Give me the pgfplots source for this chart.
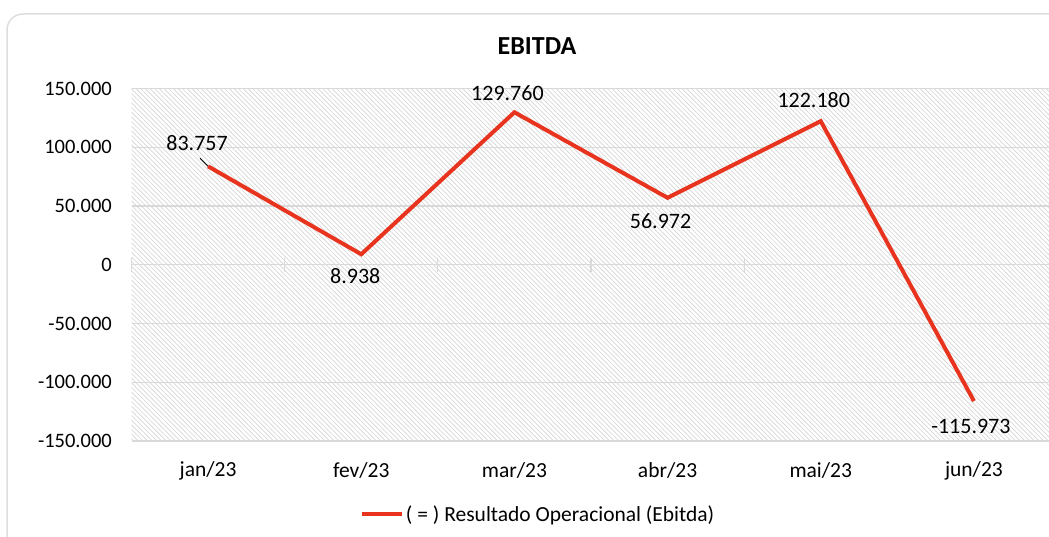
\documentclass[border=0pt]{standalone}
\usepackage{pgfplots}
\pgfplotsset{compat=1.18}
\usepackage{pgfplotstable}
\usetikzlibrary{patterns.meta}
\usepackage{fontspec}
\setmainfont{Carlito}
\definecolor{linered}{RGB}{232,52,30}
\definecolor{gridgray}{RGB}{217,217,217}
\definecolor{hatch}{RGB}{212,212,212}
\definecolor{framegray}{RGB}{222,222,222}

\pgfplotstableread{
x y lab dx dy
0 83757 83.757 -11 23.5
1 8938 8.938 -6 -21.5
2 129760 129.760 -7 19.3
3 56972 56.972 -7 -23
4 122180 122.180 -7 21
5 -115973 -115.973 -3 -25.5
}\data

\begin{document}
\begin{tikzpicture}
\useasboundingbox (0pt,0pt) rectangle (1049pt,536pt);
\fill[white] (0pt,0pt) rectangle (1049pt,536pt);
\draw[framegray, line width=1.5pt, rounded corners=16pt] (7pt,-30pt) -- (7pt,522pt) -- (1090pt,522pt);
\node[font=\fontsize{26}{30}\selectfont\bfseries] at (537pt,490pt) {EBITDA};
\begin{axis}[
  at={(131.5pt,95pt)}, anchor=south west,
  scale only axis, width=919pt, height=352.5pt,
  xmin=-0.5, xmax=5.5, ymin=-150000, ymax=150000,
  xtick={0,...,5},
  xticklabels={jan/23,fev/23,mar/23,abr/23,mai/23,jun/23},
  ytick={-150000,-100000,-50000,0,50000,100000,150000},
  yticklabels={-150.000,-100.000,-50.000,0,50.000,100.000,150.000},
  scaled y ticks=false,
  axis line style={draw=none},
  xtick pos=bottom, ytick pos=left,
  tick style={draw=none},
  ymajorgrids,
  grid style={gridgray, line width=1.2pt},
  axis background/.style={pattern={Lines[angle=-45,distance=3.3pt,line width=0.65pt]}, pattern color=hatch},
  yticklabel style={inner sep=0pt, anchor=east, xshift=-19.5pt, font=\fontsize{20.5}{24}\selectfont},
  xticklabel style={inner sep=0pt, anchor=center, yshift=-29.5pt, font=\fontsize{21.5}{24}\selectfont},
  clip=false,
  legend style={at={(0.4425,-0.207)}, anchor=center, draw=none, fill=none, inner sep=0pt,
    nodes={inner sep=1.5pt, font=\fontsize{21.5}{24}\selectfont}},
  legend image code/.code={\draw[#1] (0pt,0pt) -- (40pt,0pt);},
]
\pgfplotsinvokeforeach{-0.5,0.5,1.5,2.5,3.5,4.5}{
  \draw[gridgray, line width=1.2pt] ([yshift=-7pt]axis cs:#1,0) -- ([yshift=7pt]axis cs:#1,0);
}
\draw[black, line width=1pt] ([xshift=-8pt,yshift=8pt]axis cs:0,83757) -- (axis cs:0,83757);
\addplot[linered, line width=4pt, mark=none,
  nodes near coords, point meta=explicit symbolic,
  visualization depends on={\thisrow{dx}\as\dx},
  visualization depends on={\thisrow{dy}\as\dy},
  every node near coord/.append style={anchor=center, xshift=\dx, yshift=\dy, black, font=\fontsize{22}{26}\selectfont}
] table[x=x, y=y, meta=lab] {\data};
\addlegendentry{( = ) Resultado Operacional (Ebitda)}
\end{axis}
\end{tikzpicture}
\end{document}
